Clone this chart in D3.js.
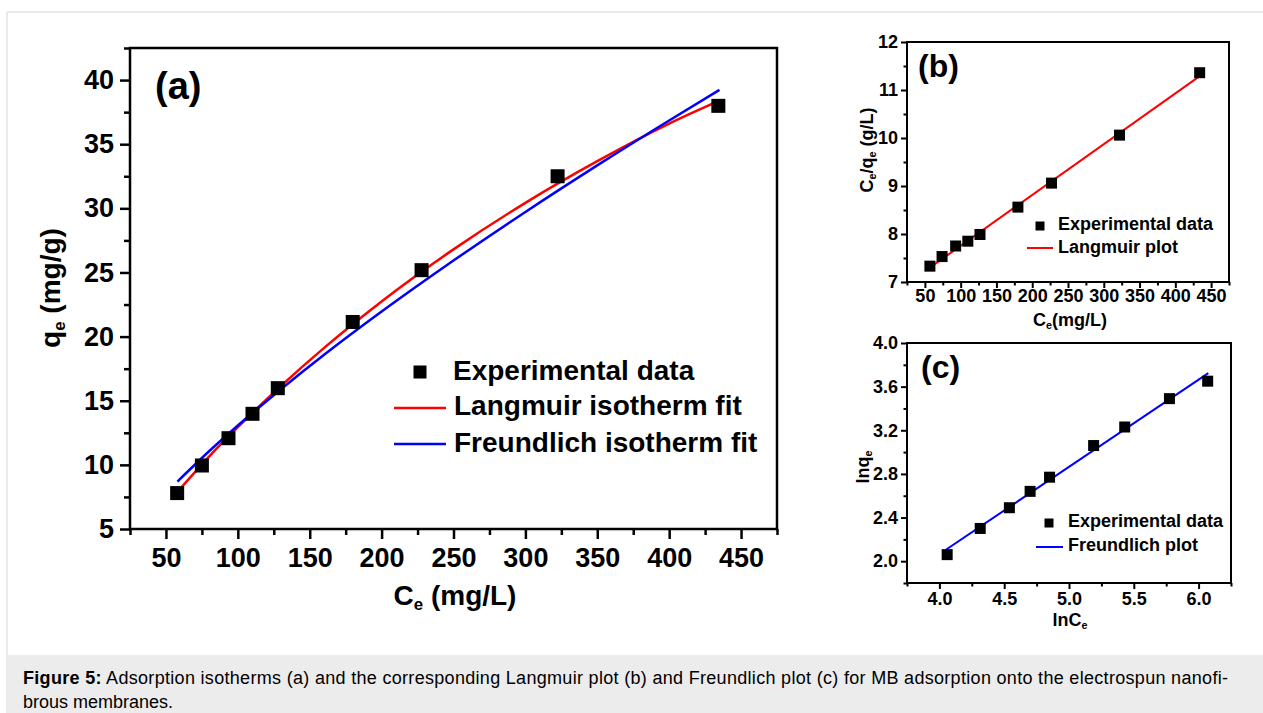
<!DOCTYPE html>
<html>
<head>
<meta charset="utf-8">
<script src="https://cdn.jsdelivr.net/npm/d3@7"></script>
<style>
body { margin: 0; background: #fff; }
svg text { font-family: Arial, "Liberation Sans", Helvetica, sans-serif; }
</style>
</head>
<body>
<div id="container"></div>
<script>

// (a) adsorption isotherm
var ce_a = [57.8, 75, 93.5, 110.2, 127.8, 179.9, 227.8, 322.4, 434.2];
var qe_a = [7.8, 9.95, 12.08, 13.98, 15.98, 21.14, 25.18, 32.5, 37.99];
var fit_ce = [58, 80, 100, 130, 160, 200, 250, 300, 350, 400, 435];
var langmuir_qe = [7.9, 10.65, 12.94, 16.15, 19.12, 22.74, 26.8, 30.43, 33.68, 36.61, 38.4];
var freundlich_qe = [8.7, 11.06, 13.07, 15.9, 18.58, 21.95, 25.93, 29.72, 33.35, 36.85, 39.23];

// (b) Langmuir plot
var ce_b = [57, 74, 93, 110, 127, 180, 227, 322, 434];
var ceqe_b = [7.33, 7.53, 7.75, 7.85, 7.99, 8.56, 9.06, 10.06, 11.36];
var lang_line_x = [57, 436];
var lang_line_y = [7.3, 11.31];

// (c) Freundlich plot
var lnce_c = [4.06, 4.315, 4.54, 4.7, 4.85, 5.19, 5.43, 5.775, 6.07];
var lnqe_c = [2.06, 2.3, 2.49, 2.64, 2.77, 3.06, 3.23, 3.49, 3.65];
var freu_line_x = [4.05, 6.075];
var freu_line_y = [2.105, 3.724];

// ticks
var ce_major = [50, 100, 150, 200, 250, 300, 350, 400, 450];
var ce_minor = [25, 75, 125, 175, 225, 275, 325, 375, 425, 475];
var qe_major = [5, 10, 15, 20, 25, 30, 35, 40];
var qe_minor = [7.5, 12.5, 17.5, 22.5, 27.5, 32.5, 37.5, 42.5];
var ceqe_major = [7, 8, 9, 10, 11, 12];
var ceqe_minor = [7.5, 8.5, 9.5, 10.5, 11.5];
var lnce_major = [4.0, 4.5, 5.0, 5.5, 6.0];
var lnce_minor = [3.75, 4.25, 4.75, 5.25, 5.75, 6.25];
var lnqe_major = [2.0, 2.4, 2.8, 3.2, 3.6, 4.0];
var lnqe_minor = [1.8, 2.2, 2.6, 3.0, 3.4, 3.8];


function zip(xs, ys) {
	var out = [];
	for (var i = 0; i < xs.length; i++) {
		out.push([xs[i], ys[i]]);
	};
	return out;
};


// parts: [text, is_subscript]
function richtext(text, parts) {
	for (var i = 0; i < parts.length; i++) {
		var t = text.append("tspan").text(parts[i][0]);
		if (parts[i][1]) {
			t.attr("font-size", "60%").attr("dy", "0.3em");
		} else if (i > 0 && parts[i - 1][1]) {
			t.attr("dy", "-0.18em");
		};
	};
	return text;
};


function drawaxes(g, x, y, w, h, o) {
	var gx = g.append("g").attr("transform", "translate(0," + h + ")");
	gx.append("g").call(d3.axisBottom(x).tickValues(o.xminor).tickSize(o.minor).tickFormat(""));
	gx.append("g").call(d3.axisBottom(x).tickValues(o.xmajor).tickSize(o.major)
		.tickPadding(o.xpad).tickFormat(o.xfmt));
	var gy = g.append("g");
	gy.append("g").call(d3.axisLeft(y).tickValues(o.yminor).tickSize(o.minor).tickFormat(""));
	gy.append("g").call(d3.axisLeft(y).tickValues(o.ymajor).tickSize(o.major)
		.tickPadding(o.ypad).tickFormat(o.yfmt));
	g.selectAll(".domain").remove();
	g.selectAll(".tick line").attr("stroke", "#000").attr("stroke-width", o.sw);
	g.selectAll(".tick text")
		.attr("font-size", o.fs)
		.attr("font-weight", "bold")
		.attr("fill", "#000")
		.style("font-family", "Arial, 'Liberation Sans', sans-serif");
	g.append("rect")
		.attr("width", w).attr("height", h)
		.attr("fill", "none").attr("stroke", "#000").attr("stroke-width", o.sw);
};


function drawpoints(g, data, x, y, size) {
	g.selectAll("rect.pt")
		.data(data)
		.enter()
		.append("rect")
		.attr("class", "pt")
		.attr("x", function(d) { return x(d[0]) - size / 2 })
		.attr("y", function(d) { return y(d[1]) - size / 2 })
		.attr("width", size)
		.attr("height", size)
		.attr("fill", "#000");
};


function drawline(g, data, x, y, color, sw, curve) {
	var line = d3.line()
		.x(function(d) { return x(d[0]) })
		.y(function(d) { return y(d[1]) });
	if (curve) line.curve(d3.curveMonotoneX);
	g.append("path")
		.datum(data)
		.attr("d", line)
		.attr("fill", "none")
		.attr("stroke", color)
		.attr("stroke-width", sw);
};


function legend(svg, items, fs) {
	// items: {type, x, y, size|x2, color, text, tx, ty}
	for (var i = 0; i < items.length; i++) {
		var it = items[i];
		if (it.type == "sq") {
			svg.append("rect").attr("x", it.x - it.size / 2).attr("y", it.y - it.size / 2)
				.attr("width", it.size).attr("height", it.size).attr("fill", "#000");
		} else {
			svg.append("line").attr("x1", it.x).attr("x2", it.x2).attr("y1", it.y).attr("y2", it.y)
				.attr("stroke", it.color).attr("stroke-width", it.sw);
		};
		svg.append("text").attr("x", it.tx).attr("y", it.ty)
			.attr("font-size", fs).attr("font-weight", "bold").text(it.text);
	};
};


function drawit() {
	var svg = d3.select("#container")
		.append("svg")
		.attr("width", 1263)
		.attr("height", 713);

	// page frame and caption box
	svg.append("line").attr("x1", 7).attr("x2", 1263).attr("y1", 12).attr("y2", 12)
		.attr("stroke", "#e2e2e2").attr("stroke-width", 1.5);
	svg.append("line").attr("x1", 7).attr("x2", 7).attr("y1", 12).attr("y2", 713)
		.attr("stroke", "#e2e2e2").attr("stroke-width", 1.5);
	svg.append("rect").attr("x", 7.75).attr("y", 655).attr("width", 1263).attr("height", 58)
		.attr("fill", "#ececec");
	var cap = svg.append("text").attr("x", 23).attr("y", 684).attr("font-size", 18).attr("fill", "#000")
		.attr("textLength", 1205).attr("lengthAdjust", "spacing");
	cap.append("tspan").attr("font-weight", "bold").text("Figure 5:");
	cap.append("tspan").text(" Adsorption isotherms (a) and the corresponding Langmuir plot (b) and Freundlich plot (c) for MB adsorption onto the electrospun nanofi-");
	svg.append("text").attr("x", 23).attr("y", 708).attr("font-size", 18).attr("fill", "#000")
		.text("brous membranes.");

	// ---- panel (a)
	var ax0 = 130, ay0 = 48, aw = 647, ah = 481;
	var xa = d3.scaleLinear().domain([25, 475]).range([0, aw]);
	var ya = d3.scaleLinear().domain([5, 42.5]).range([ah, 0]);
	var ga = svg.append("g").attr("transform", "translate(" + ax0 + "," + ay0 + ")");
	drawaxes(ga, xa, ya, aw, ah, {xmajor: ce_major, xminor: ce_minor, ymajor: qe_major, yminor: qe_minor,
		major: 10, minor: 6, xpad: 9, ypad: 6, fs: 27, sw: 2.5, xfmt: d3.format("d"), yfmt: d3.format("d")});
	drawline(ga, zip(fit_ce, langmuir_qe), xa, ya, "#ff0000", 2.5, true);
	drawline(ga, zip(fit_ce, freundlich_qe), xa, ya, "#0000ff", 2.5, true);
	drawpoints(ga, zip(ce_a, qe_a), xa, ya, 14);
	svg.append("text").attr("x", 155).attr("y", 99).attr("font-size", 38).attr("font-weight", "bold").text("(a)");
	richtext(svg.append("text").attr("x", 455).attr("y", 605).attr("text-anchor", "middle")
		.attr("font-size", 28).attr("font-weight", "bold"), [["C", 0], ["e", 1], [" (mg/L)", 0]]);
	richtext(svg.append("text").attr("transform", "translate(60,288) rotate(-90)").attr("text-anchor", "middle")
		.attr("font-size", 28).attr("font-weight", "bold"), [["q", 0], ["e", 1], [" (mg/g)", 0]]);
	legend(svg, [
		{type: "sq", x: 420, y: 372, size: 13, text: "Experimental data", tx: 453, ty: 380},
		{type: "ln", x: 394, x2: 446, y: 408, color: "#ff0000", sw: 2.5, text: "Langmuir isotherm fit", tx: 454, ty: 415},
		{type: "ln", x: 394, x2: 446, y: 444, color: "#0000ff", sw: 2.5, text: "Freundlich isotherm fit", tx: 454, ty: 452}
	], 28);

	// ---- panel (b)
	var bx0 = 907, by0 = 42, bw = 322, bh = 240;
	var xb = d3.scaleLinear().domain([25, 475]).range([0, bw]);
	var yb = d3.scaleLinear().domain([7, 12]).range([bh, 0]);
	var gb = svg.append("g").attr("transform", "translate(" + bx0 + "," + by0 + ")");
	drawaxes(gb, xb, yb, bw, bh, {xmajor: ce_major, xminor: ce_minor, ymajor: ceqe_major, yminor: ceqe_minor,
		major: 6, minor: 3.5, xpad: 1, ypad: 3, fs: 18, sw: 2, xfmt: d3.format("d"), yfmt: d3.format("d")});
	drawline(gb, zip(lang_line_x, lang_line_y), xb, yb, "#ff0000", 2, false);
	drawpoints(gb, zip(ce_b, ceqe_b), xb, yb, 11);
	svg.append("text").attr("x", 918).attr("y", 77).attr("font-size", 32).attr("font-weight", "bold").text("(b)");
	richtext(svg.append("text").attr("x", 1070).attr("y", 326).attr("text-anchor", "middle")
		.attr("font-size", 18).attr("font-weight", "bold"), [["C", 0], ["e", 1], ["(mg/L)", 0]]);
	richtext(svg.append("text").attr("transform", "translate(873,150) rotate(-90)").attr("text-anchor", "middle")
		.attr("font-size", 18).attr("font-weight", "bold"), [["C", 0], ["e", 1], ["/q", 0], ["e", 1], [" (g/L)", 0]]);
	legend(svg, [
		{type: "sq", x: 1040, y: 226, size: 9, text: "Experimental data", tx: 1058, ty: 230},
		{type: "ln", x: 1027, x2: 1053, y: 248, color: "#ff0000", sw: 2, text: "Langmuir plot", tx: 1058, ty: 253}
	], 18);

	// ---- panel (c)
	var cx0 = 907, cy0 = 343, cw = 324, ch = 240;
	var xc = d3.scaleLinear().domain([3.75, 6.25]).range([0, cw]);
	var yc = d3.scaleLinear().domain([1.8, 4.0]).range([ch, 0]);
	var gc = svg.append("g").attr("transform", "translate(" + cx0 + "," + cy0 + ")");
	drawaxes(gc, xc, yc, cw, ch, {xmajor: lnce_major, xminor: lnce_minor, ymajor: lnqe_major, yminor: lnqe_minor,
		major: 6, minor: 3.5, xpad: 3, ypad: 3, fs: 18, sw: 2, xfmt: d3.format(".1f"), yfmt: d3.format(".1f")});
	drawline(gc, zip(freu_line_x, freu_line_y), xc, yc, "#0000ff", 2, false);
	drawpoints(gc, zip(lnce_c, lnqe_c), xc, yc, 11);
	svg.append("text").attr("x", 921).attr("y", 378).attr("font-size", 32).attr("font-weight", "bold").text("(c)");
	richtext(svg.append("text").attr("x", 1070).attr("y", 626).attr("text-anchor", "middle")
		.attr("font-size", 18).attr("font-weight", "bold"), [["lnC", 0], ["e", 1]]);
	richtext(svg.append("text").attr("transform", "translate(869,467) rotate(-90)").attr("text-anchor", "middle")
		.attr("font-size", 18).attr("font-weight", "bold"), [["lnq", 0], ["e", 1]]);
	legend(svg, [
		{type: "sq", x: 1049, y: 523, size: 9, text: "Experimental data", tx: 1068, ty: 527},
		{type: "ln", x: 1036, x2: 1063, y: 547, color: "#0000ff", sw: 2, text: "Freundlich plot", tx: 1068, ty: 551}
	], 18);
};


drawit();

</script>
</body>
</html>
